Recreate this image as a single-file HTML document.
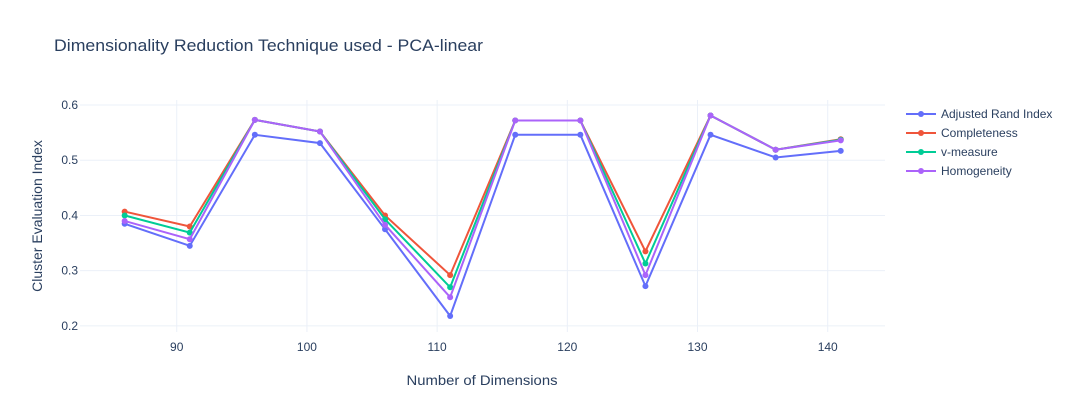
<!DOCTYPE html>
<html><head><meta charset="utf-8"><style>
body{margin:0;background:#fff;font-family:"Liberation Sans","Open Sans",sans-serif}
svg text{font-family:"Liberation Sans",sans-serif;fill:#2a3f5f}
</style></head><body>
<svg id="chart" width="1075" height="412">
<text x="54" y="51" font-size="17" textLength="429" lengthAdjust="spacingAndGlyphs">Dimensionality Reduction Technique used - PCA-linear</text>
<g id="grid"></g><g id="series"></g><g id="ticks"></g>
<text x="482" y="385" font-size="14" text-anchor="middle" textLength="151" lengthAdjust="spacingAndGlyphs">Number of Dimensions</text>
<text transform="translate(42,216) rotate(-90)" font-size="14" text-anchor="middle">Cluster Evaluation Index</text>
<g id="legend"></g>
</svg>
<script>
const dims=[86,91,96,101,106,111,116,121,126,131,136,141];
const ari=[0.385,0.345,0.546,0.531,0.375,0.218,0.546,0.546,0.272,0.546,0.505,0.517];
const comp=[0.407,0.380,0.573,0.552,0.400,0.292,0.572,0.572,0.335,0.581,0.519,0.538];
const vmeas=[0.400,0.369,0.573,0.552,0.393,0.270,0.572,0.572,0.313,0.581,0.519,0.537];
const homo=[0.390,0.357,0.573,0.552,0.383,0.252,0.572,0.572,0.292,0.581,0.519,0.536];
const names=["Adjusted Rand Index","Completeness","v-measure","Homogeneity"];
const xTicks=[90,100,110,120,130,140];
const yTicks=[0.2,0.3,0.4,0.5,0.6];
const colors=["#636efa","#EF553B","#00cc96","#ab63fa"];
const NS="http://www.w3.org/2000/svg";
const L=80,R=885,T=100,B=332,x0=82.57,x1=144.4,y0=0.189,y1=0.609;
const X=v=>L+(v-x0)/(x1-x0)*(R-L);
const Y=v=>B-(v-y0)/(y1-y0)*(B-T);
function mk(t,a,p){const e=document.createElementNS(NS,t);for(const k in a)e.setAttribute(k,a[k]);p.appendChild(e);return e;}
const grid=document.getElementById('grid'),ticks=document.getElementById('ticks');
xTicks.forEach(v=>{
 const l=mk('line',{x1:X(v),x2:X(v),y1:T,y2:B,stroke:'#ebf0f8','stroke-width':1},grid);
 
 
 const t=mk('text',{x:X(v),y:B+19,'font-size':12,'text-anchor':'middle'},ticks);t.textContent=v;
 
 
});
yTicks.forEach(v=>{
 const l=mk('line',{x1:L,x2:R,y1:Y(v),y2:Y(v),stroke:'#ebf0f8','stroke-width':1},grid);
 
 
 const t=mk('text',{x:L-2,y:Y(v)+4,'font-size':12,'text-anchor':'end'},ticks);t.textContent=v.toFixed(1);
 
 
});
const ser=document.getElementById('series'),leg=document.getElementById('legend');
[ari,comp,vmeas,homo].forEach((s,i)=>{
 const g=mk('g',{},ser);
 
 
 mk('polyline',{points:s.map((v,j)=>X(dims[j])+','+Y(v)).join(' '),fill:'none',stroke:colors[i],'stroke-width':2},g);
 s.forEach((v,j)=>{const c=mk('circle',{cx:X(dims[j]),cy:Y(v),r:3,fill:colors[i]},g);
  
  });
 const y=114+i*19;
 const lg=mk('g',{},leg);
 
 
 mk('line',{x1:906,x2:936,y1:y,y2:y,stroke:colors[i],'stroke-width':2},lg);
 mk('circle',{cx:921,cy:y,r:3,fill:colors[i]},lg);
 const t=mk('text',{x:941,y:y+4,'font-size':12},lg);t.textContent=names[i];
});
</script>
</body></html>
